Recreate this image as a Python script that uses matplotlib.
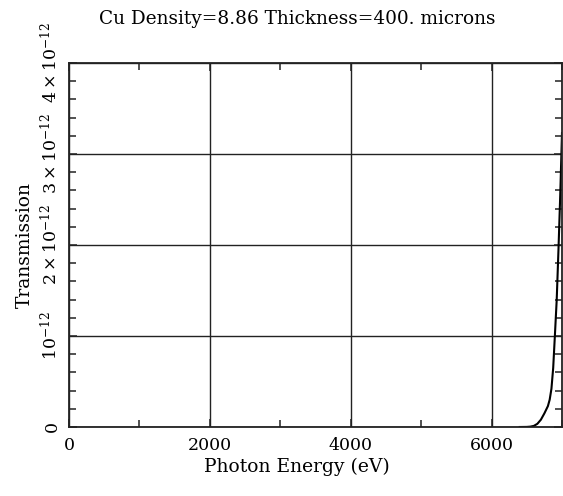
import matplotlib
matplotlib.use("Agg")
import matplotlib.pyplot as plt
from matplotlib.ticker import MultipleLocator, FixedLocator, FixedFormatter
import numpy as np

plt.rcParams['font.family'] = ['DejaVu Serif']
plt.rcParams['mathtext.fontset'] = 'dejavuserif'

title = "Cu Density=8.86 Thickness=400. microns"
xlabel = "Photon Energy (eV)"
ylabel = "Transmission"

energy = [6400, 6500, 6550, 6600, 6650, 6700, 6750, 6800, 6825, 6850, 6875,
          6900, 6925, 6950, 6975, 7000]
transmission_e12 = [0.0, 0.001, 0.004, 0.012, 0.035, 0.08, 0.15, 0.23, 0.3,
                     0.42, 0.65, 1.02, 1.4, 1.95, 2.55, 3.23]

xticks = [0, 2000, 4000, 6000]
xticklabels = ["0", "2000", "4000", "6000"]
yticks_e12 = [0, 1, 2, 3, 4]
yticklabels = ["0", r"$10^{-12}$", r"$2\times10^{-12}$", r"$3\times10^{-12}$",
               r"$4\times10^{-12}$"]

fig = plt.figure(figsize=(5.63, 4.96), dpi=100)
ax = fig.add_axes([69/563, 69/496, 493/563, 364/496])

scale = 1e-12
ax.plot(energy, np.array(transmission_e12) * scale, color='black', lw=1.5)

ax.set_xlim(0, 7000)
ax.set_ylim(0, 4 * scale)

ax.xaxis.set_major_locator(FixedLocator(xticks))
ax.xaxis.set_major_formatter(FixedFormatter(xticklabels))
ax.xaxis.set_minor_locator(MultipleLocator(1000))
ax.yaxis.set_major_locator(FixedLocator(np.array(yticks_e12) * scale))
ax.yaxis.set_major_formatter(FixedFormatter(yticklabels))
ax.yaxis.set_minor_locator(MultipleLocator(0.2 * scale))

ax.grid(True, which='major', color='#222222', lw=1.0)
ax.tick_params(which='both', direction='in', top=True, right=True,
               color='#222222', width=1.1, labelsize=12.5)
ax.tick_params(which='major', length=6)
ax.tick_params(which='minor', length=5)
ax.tick_params(axis='x', which='major', pad=7)
ax.tick_params(axis='y', which='major', pad=6)
for lab in ax.get_yticklabels():
    lab.set_rotation(90)
    lab.set_va('center')
for s in ax.spines.values():
    s.set_linewidth(1.3)
    s.set_color('#222222')

cx = (297 - 69) / 493
t = ax.set_title(title, fontsize=13.3, pad=28)
t.set_x(cx)
ax.set_xlabel(xlabel, fontsize=13.5, labelpad=3)
ax.xaxis.set_label_coords(cx, -0.085)
ax.set_ylabel(ylabel, fontsize=13.5, labelpad=4)

fig.savefig("out.png", dpi=100)
